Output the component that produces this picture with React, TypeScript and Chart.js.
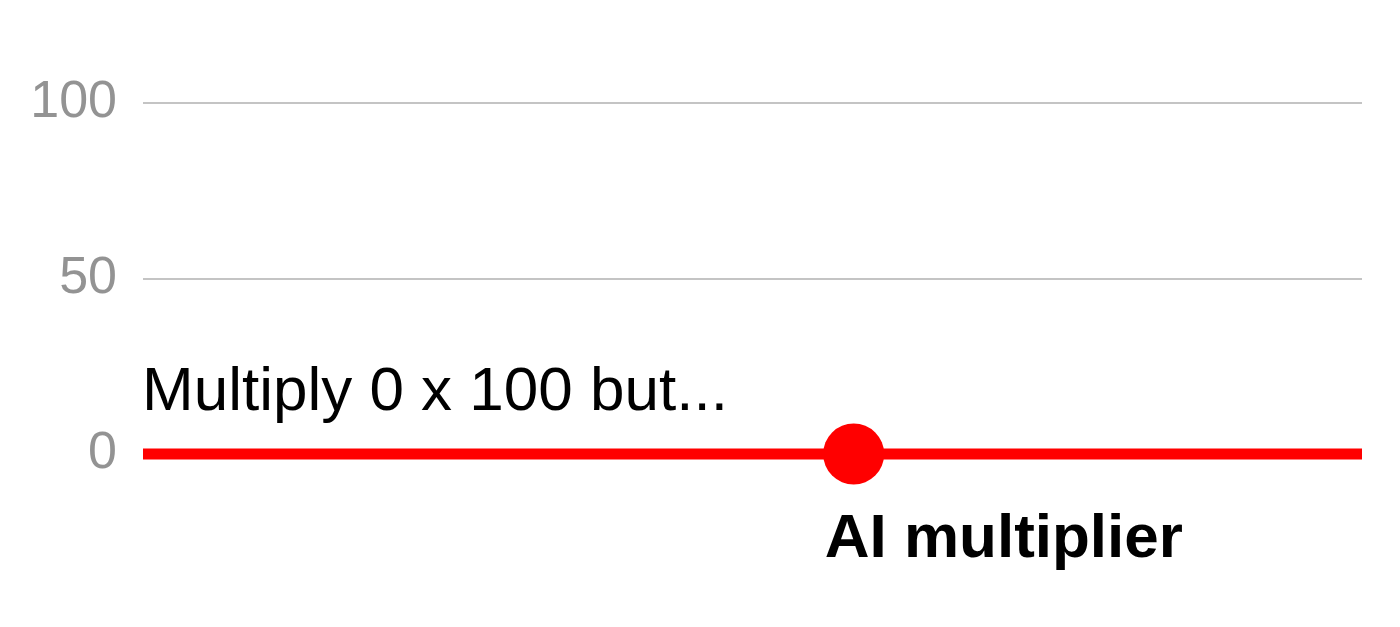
import React, { useEffect, useRef } from 'react';
import { Chart, registerables } from 'chart.js';

Chart.register(...registerables);

// chart data
const xRange = [0, 100];
const lineX = [0, 100];
const lineY = [0, 0];
const multiplierX = [58.3];
const multiplierY = [0];
const yTicks = [0, 50, 100];
const topNote = 'Multiply 0 x 100 but...';
const dotLabel = 'AI multiplier';

const RED = '#ff0000';
const FONT = '"Liberation Sans", Arial, Helvetica, sans-serif';

const labelsPlugin = {
  id: 'labels',
  afterDatasetsDraw(chart: any) {
    const { ctx, chartArea, scales } = chart;
    const y0 = scales.y.getPixelForValue(lineY[0]);
    const dotX = scales.x.getPixelForValue(multiplierX[0]);
    ctx.save();
    ctx.fillStyle = '#000000';
    ctx.textAlign = 'left';
    ctx.textBaseline = 'alphabetic';
    ctx.font = `62px ${FONT}`;
    ctx.fillText(topNote, chartArea.left - 1, y0 - 44);
    ctx.font = `bold 62px ${FONT}`;
    ctx.fillText(dotLabel, dotX - 29, y0 + 103);
    ctx.restore();
  },
};

const App: React.FC = () => {
  const chartRef = useRef<HTMLCanvasElement | null>(null);
  const chartInstance = useRef<Chart | null>(null);

  useEffect(() => {
    document.body.style.margin = '0';
    if (!chartRef.current) return;
    if (chartInstance.current) chartInstance.current.destroy();

    chartInstance.current = new Chart(chartRef.current, {
      type: 'line',
      data: {
        datasets: [
          {
            label: 'line',
            data: lineX.map((x, i) => ({ x, y: lineY[i] })),
            borderColor: RED,
            borderWidth: 11,
            borderCapStyle: 'butt',
            pointRadius: 0,
            clip: false,
          },
          {
            label: 'dot',
            data: multiplierX.map((x, i) => ({ x, y: multiplierY[i] })),
            showLine: false,
            pointRadius: 30.5,
            pointBackgroundColor: RED,
            pointBorderWidth: 0,
            clip: false,
          },
        ],
      },
      options: {
        animation: false,
        responsive: true,
        maintainAspectRatio: false,
        layout: { padding: { top: 103, bottom: 173, left: 30, right: 38 } },
        plugins: {
          legend: { display: false },
          tooltip: { enabled: false },
        },
        scales: {
          x: {
            type: 'linear',
            min: xRange[0],
            max: xRange[1],
            display: false,
          },
          y: {
            type: 'linear',
            min: yTicks[0],
            max: yTicks[yTicks.length - 1],
            afterBuildTicks: (scale: any) => {
              scale.ticks = yTicks.map((v) => ({ value: v }));
            },
            afterFit: (scale: any) => {
              scale.width = 113;
            },
            border: { display: false },
            grid: {
              drawTicks: false,
              lineWidth: 2,
              color: (c: any) => (c.tick && c.tick.value === 0 ? 'rgba(0,0,0,0)' : '#c4c4c4'),
            },
            ticks: {
              padding: 26,
              color: '#939393',
              font: { size: 52, family: FONT },
            },
          },
        },
      },
      plugins: [labelsPlugin],
    } as any);

    return () => {
      if (chartInstance.current) {
        chartInstance.current.destroy();
        chartInstance.current = null;
      }
    };
  }, []);

  return (
    <div style={{ width: 1400, height: 627, background: '#ffffff', position: 'relative' }}>
      <canvas ref={chartRef}></canvas>
    </div>
  );
};

export default App;
